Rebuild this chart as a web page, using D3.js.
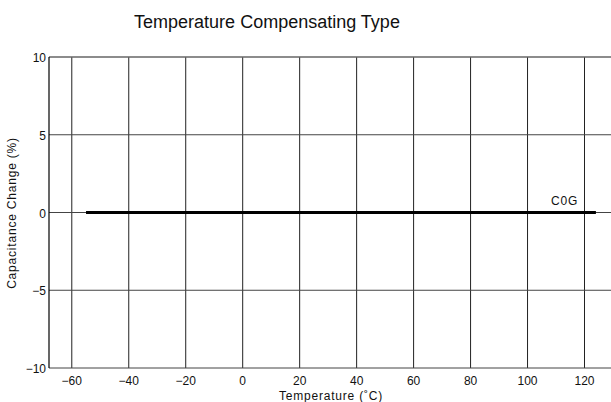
<!DOCTYPE html>
<html>
<head>
<meta charset="utf-8">
<script src="https://cdn.jsdelivr.net/npm/d3@7"></script>
<style>
  body { margin: 0; background: #fff; }
  text { font-family: "Liberation Sans", Arial, sans-serif; }
</style>
</head>
<body>
<div id="chart"></div>
<script>
// Chart data
const xTicks = [-60, -40, -20, 0, 20, 40, 60, 80, 100, 120];
const yTicks = [-10, -5, 0, 5, 10];
const seriesName = "C0G";
const seriesTemp = [-55, 124];
const seriesChange = [0, 0];

const width = 611;
const height = 402;
const margin = {top: 57, right: 0, bottom: 34, left: 49};

const svg = d3.select("#chart")
  .append("svg")
  .attr("width", width)
  .attr("height", height);

const x = d3.scaleLinear()
  .domain([-68, 129.3])
  .range([margin.left, width - margin.right]);

const y = d3.scaleLinear()
  .domain([-10, 10])
  .range([height - margin.bottom, margin.top]);

const fmt = d => (d < 0 ? "\u2212" + Math.abs(d) : "" + d);

// Title
svg.append("text")
  .attr("x", 267)
  .attr("y", 28)
  .attr("text-anchor", "middle")
  .attr("font-size", "18px")
  .attr("fill", "#111")
  .text("Temperature Compensating Type");

// Vertical grid
svg.append("g")
  .selectAll("line")
  .data(xTicks)
  .join("line")
  .attr("x1", d => x(d))
  .attr("x2", d => x(d))
  .attr("y1", y(10))
  .attr("y2", y(-10))
  .attr("stroke", "#222")
  .attr("stroke-width", 1);

// Horizontal grid
svg.append("g")
  .selectAll("line")
  .data(yTicks)
  .join("line")
  .attr("x1", x.range()[0])
  .attr("x2", x.range()[1])
  .attr("y1", d => y(d))
  .attr("y2", d => y(d))
  .attr("stroke", d => (d === 10 ? "#666" : "#444"))
  .attr("stroke-width", d => (d === 10 ? 1.5 : 1));

// Left axis line
svg.append("line")
  .attr("x1", x.range()[0])
  .attr("x2", x.range()[0])
  .attr("y1", y(10))
  .attr("y2", y(-10))
  .attr("stroke", "#000")
  .attr("stroke-width", 1.2);

// Y tick labels
svg.append("g")
  .selectAll("text")
  .data(yTicks)
  .join("text")
  .attr("x", x.range()[0] - 3)
  .attr("y", d => y(d) + 5)
  .attr("text-anchor", "end")
  .attr("font-size", "12px")
  .attr("fill", "#111")
  .text(fmt);

// X tick labels
svg.append("g")
  .selectAll("text")
  .data(xTicks)
  .join("text")
  .attr("x", d => x(d))
  .attr("y", y(-10) + 17)
  .attr("text-anchor", "middle")
  .attr("font-size", "12px")
  .attr("fill", "#111")
  .text(fmt);

// Axis titles
svg.append("text")
  .attr("x", 331)
  .attr("y", 400)
  .attr("text-anchor", "middle")
  .attr("font-size", "12px")
  .attr("letter-spacing", "0.8px")
  .attr("fill", "#111")
  .text("Temperature (\u02DAC)");

svg.append("text")
  .attr("transform", `translate(16, 213) rotate(-90)`)
  .attr("text-anchor", "middle")
  .attr("font-size", "12px")
  .attr("letter-spacing", "0.8px")
  .attr("fill", "#111")
  .text("Capacitance Change (%)");

// Series line
const pts = seriesTemp.map((t, i) => [t, seriesChange[i]]);
svg.append("path")
  .datum(pts)
  .attr("fill", "none")
  .attr("stroke", "#000")
  .attr("stroke-width", 3)
  .attr("d", d3.line().x(d => x(d[0])).y(d => y(d[1])));

svg.append("text")
  .attr("x", x(113))
  .attr("y", y(0) - 8)
  .attr("text-anchor", "middle")
  .attr("font-size", "12px")
  .attr("letter-spacing", "0.8px")
  .attr("fill", "#111")
  .text(seriesName);
</script>
</body>
</html>
